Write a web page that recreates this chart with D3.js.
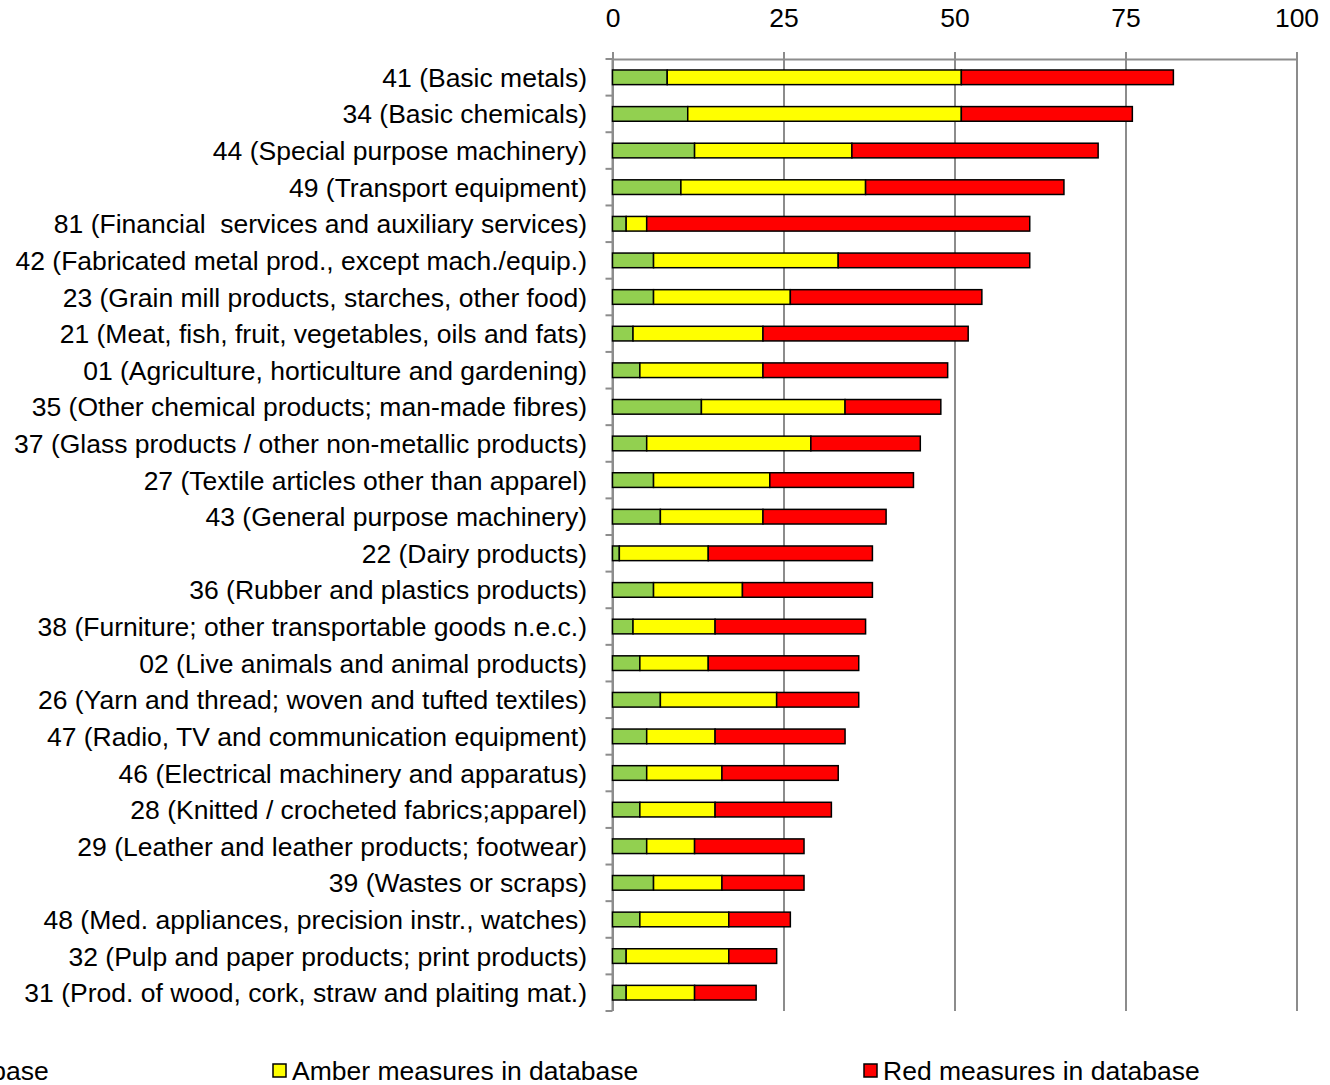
<!DOCTYPE html>
<html>
<head>
<meta charset="utf-8">
<script src="https://cdn.jsdelivr.net/npm/d3@7"></script>
<style>
  body { margin: 0; background: #fff; overflow: hidden; }
  svg { display: block; font-family: "Liberation Sans", Arial, sans-serif; }
  text { white-space: pre; }
</style>
</head>
<body>
<script>
// categories, top to bottom
var categories = [
  "41 (Basic metals)",
  "34 (Basic chemicals)",
  "44 (Special purpose machinery)",
  "49 (Transport equipment)",
  "81 (Financial  services and auxiliary services)",
  "42 (Fabricated metal prod., except mach./equip.)",
  "23 (Grain mill products, starches, other food)",
  "21 (Meat, fish, fruit, vegetables, oils and fats)",
  "01 (Agriculture, horticulture and gardening)",
  "35 (Other chemical products; man-made fibres)",
  "37 (Glass products / other non-metallic products)",
  "27 (Textile articles other than apparel)",
  "43 (General purpose machinery)",
  "22 (Dairy products)",
  "36 (Rubber and plastics products)",
  "38 (Furniture; other transportable goods n.e.c.)",
  "02 (Live animals and animal products)",
  "26 (Yarn and thread; woven and tufted textiles)",
  "47 (Radio, TV and communication equipment)",
  "46 (Electrical machinery and apparatus)",
  "28 (Knitted / crocheted fabrics;apparel)",
  "29 (Leather and leather products; footwear)",
  "39 (Wastes or scraps)",
  "48 (Med. appliances, precision instr., watches)",
  "32 (Pulp and paper products; print products)",
  "31 (Prod. of wood, cork, straw and plaiting mat.)"
];
var green = [8, 11, 12, 10, 2, 6, 6, 3, 4, 13, 5, 6, 7, 1, 6, 3, 4, 7, 5, 5, 4, 5, 6, 4, 2, 2];
var amber = [43, 40, 23, 27, 3, 27, 20, 19, 18, 21, 24, 17, 15, 13, 13, 12, 10, 17, 10, 11, 11, 7, 10, 13, 15, 10];
var red   = [31, 25, 36, 29, 56, 28, 28, 30, 27, 14, 16, 21, 18, 24, 19, 22, 22, 12, 19, 17, 17, 16, 12, 9, 7, 9];
var seriesNames = ["Green measures in database", "Amber measures in database", "Red measures in database"];
var seriesColors = ["#92D050", "#FFFF00", "#FF0000"];
var xTicks = [0, 25, 50, 75, 100];

var width = 1330, height = 1085;
var fontSize = 26.5;
var plot = {left: 612.5, right: 1296.5, top: 59, bottom: 1011};

var svg = d3.select("body").append("svg")
  .attr("width", width)
  .attr("height", height);

var rows = categories.map(function(c, i) {
  return {cat: c, g: green[i], a: amber[i], r: red[i]};
});
var stacked = d3.stack().keys(["g", "a", "r"])(rows);

var x = d3.scaleLinear().domain([0, 100]).range([plot.left, plot.right]);
var y = d3.scaleBand().domain(categories)
  .range([plot.top, plot.bottom])
  .paddingInner(0.6).paddingOuter(0.3);

// vertical gridlines
svg.append("g").selectAll("line")
  .data(xTicks)
  .enter().append("line")
  .attr("x1", function(d){ return Math.round(x(d)); })
  .attr("x2", function(d){ return Math.round(x(d)); })
  .attr("y1", plot.top - 7)
  .attr("y2", plot.bottom)
  .attr("stroke", "#8c8c8c")
  .attr("stroke-width", 2);

// top value axis
var xAxis = svg.append("g")
  .attr("transform", "translate(0," + plot.top + ")")
  .call(d3.axisTop(x).tickValues(xTicks).tickSize(7).tickPadding(25));
xAxis.select(".domain").attr("stroke", "#8c8c8c").attr("stroke-width", 2);
xAxis.selectAll(".tick line").attr("stroke", "#8c8c8c").attr("stroke-width", 2);
xAxis.selectAll(".tick text")
  .attr("font-size", fontSize)
  .attr("font-family", "Liberation Sans, Arial, sans-serif")
  .attr("fill", "#000");

// left category axis
var catAxis = svg.append("g");
catAxis.append("line")
  .attr("x1", plot.left).attr("x2", plot.left)
  .attr("y1", plot.top).attr("y2", plot.bottom)
  .attr("stroke", "#8c8c8c").attr("stroke-width", 2);
var bounds = categories.map(function(c){ return y(c) - y.step() * 0.3; });
bounds.push(plot.bottom);
catAxis.selectAll("line.tk")
  .data(bounds)
  .enter().append("line")
  .attr("class", "tk")
  .attr("x1", plot.left - 7).attr("x2", plot.left)
  .attr("y1", function(d){ return d; })
  .attr("y2", function(d){ return d; })
  .attr("stroke", "#8c8c8c").attr("stroke-width", 2);

catAxis.selectAll("text")
  .data(categories)
  .enter().append("text")
  .attr("x", 587)
  .attr("y", function(d){ return y(d) + y.bandwidth() / 2; })
  .attr("dy", "0.36em")
  .attr("text-anchor", "end")
  .attr("font-size", fontSize)
  .attr("fill", "#000")
  .text(function(d){ return d; });

// stacked bars
svg.append("g").selectAll("g")
  .data(stacked)
  .enter().append("g")
  .attr("fill", function(d, i){ return seriesColors[i]; })
  .selectAll("rect")
  .data(function(d){ return d; })
  .enter().append("rect")
  .attr("x", function(d){ return x(d[0]); })
  .attr("y", function(d){ return y(d.data.cat); })
  .attr("width", function(d){ return x(d[1]) - x(d[0]); })
  .attr("height", y.bandwidth())
  .attr("stroke", "#000")
  .attr("stroke-width", 1.5);

// legend (first entry runs off the left edge as in the original)
var legendX = [-312, 273, 864];
var legend = svg.append("g").selectAll("g")
  .data(seriesNames)
  .enter().append("g")
  .attr("transform", function(d, i){ return "translate(" + legendX[i] + ",1064)"; });
legend.append("rect")
  .attr("width", 13).attr("height", 13)
  .attr("fill", function(d, i){ return seriesColors[i]; })
  .attr("stroke", "#000").attr("stroke-width", 1.5);
legend.append("text")
  .attr("x", 19)
  .attr("y", 6)
  .attr("dy", "0.36em")
  .attr("font-size", fontSize)
  .attr("fill", "#000")
  .text(function(d){ return d; });
</script>
</body>
</html>
